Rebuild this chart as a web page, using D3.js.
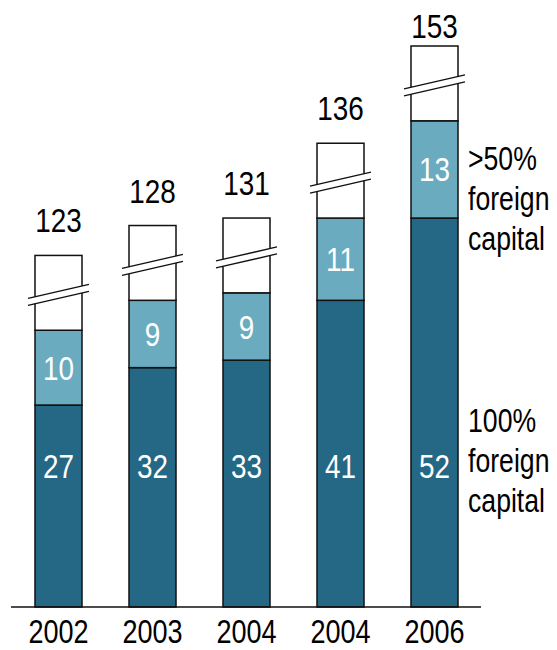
<!DOCTYPE html>
<html>
<head>
<meta charset="utf-8">
<script src="https://cdn.jsdelivr.net/npm/d3@7"></script>
<style>
  html, body { margin: 0; padding: 0; background: #fff; }
  svg { display: block; }
  text { font-family: "Liberation Sans Narrow", "Arial Narrow", "Liberation Sans", Arial, sans-serif; }
</style>
</head>
<body>
<svg id="chart" width="557" height="650"></svg>
<script>
// Companies by share of foreign capital, per year
const years = ["2002", "2003", "2004", "2004", "2006"];
const fullForeign = [27, 32, 33, 41, 52];      // 100% foreign capital
const majorityForeign = [10, 9, 9, 11, 13];    // >50% foreign capital
const totals = [123, 128, 131, 136, 153];      // all companies
const otherBreakUnits = 10;                     // compressed height of the broken remainder

const legendTop = [">50%", "foreign", "capital"];
const legendBottom = ["100%", "foreign", "capital"];

const colors = { full: "#256885", majority: "#6aabc0", other: "#ffffff" };

const svg = d3.select("#chart");
const baseY = 607;
const narrow = 0.82;   // horizontal squeeze for a condensed look

const rows = years.map((yr, i) => ({
  i, yr,
  full: fullForeign[i],
  majority: majorityForeign[i],
  total: totals[i]
}));

const x = d3.scaleBand()
  .domain(d3.range(years.length))
  .range([35, 458])
  .paddingInner(0.5)
  .paddingOuter(0);

const y = d3.scaleLinear()
  .domain([0, d3.max(rows, d => d.full + d.majority + otherBreakUnits)])
  .range([baseY, 46]);

const bw = x.bandwidth();

const g = svg.append("g");

// stacked segments
const segs = [];
rows.forEach(d => {
  segs.push({ i: d.i, y0: 0, y1: d.full, fill: colors.full });
  segs.push({ i: d.i, y0: d.full, y1: d.full + d.majority, fill: colors.majority });
  segs.push({ i: d.i, y0: d.full + d.majority, y1: d.full + d.majority + otherBreakUnits, fill: colors.other });
});

g.selectAll("rect.seg")
  .data(segs)
  .join("rect")
  .attr("class", "seg")
  .attr("x", d => x(d.i))
  .attr("width", bw)
  .attr("y", d => y(d.y1))
  .attr("height", d => y(d.y0) - y(d.y1))
  .attr("fill", d => d.fill)
  .attr("stroke", "#111")
  .attr("stroke-width", 1.5);

// break marks across the remainder segment
const ext = 7, slope = -14 / 61, gap = 7;
rows.forEach(d => {
  const top = y(d.full + d.majority + otherBreakUnits);
  const bot = y(d.full + d.majority);
  const cx = x(d.i) + bw / 2;
  const cy = (top + bot) / 2 + 2;
  const xl = x(d.i) - ext, xr = x(d.i) + bw + ext;
  const yAt = (xx, off) => cy + off + (xx - cx) * slope;
  const up = -gap / 2, dn = gap / 2;
  g.append("path")
    .attr("d", `M${xl},${yAt(xl, up)}L${xr},${yAt(xr, up)}L${xr},${yAt(xr, dn)}L${xl},${yAt(xl, dn)}Z`)
    .attr("fill", "#fff");
  [up, dn].forEach(off => {
    g.append("line")
      .attr("x1", xl).attr("y1", yAt(xl, off))
      .attr("x2", xr).attr("y2", yAt(xr, off))
      .attr("stroke", "#111").attr("stroke-width", 1.4);
  });
});

// baseline
svg.append("line")
  .attr("x1", 11).attr("x2", 481)
  .attr("y1", baseY).attr("y2", baseY)
  .attr("stroke", "#111").attr("stroke-width", 1.5);

const fs = 34;

// places condensed text at (px, py)
function labels(cls, data, px, py, text, opts) {
  return g.selectAll("text." + cls)
    .data(data)
    .join("text")
    .attr("class", cls)
    .attr("transform", (d, k) => `translate(${px(d, k)},${py(d, k)}) scale(${narrow},1)`)
    .attr("text-anchor", opts.anchor || "middle")
    .attr("font-size", opts.size || fs)
    .attr("fill", opts.fill || "#000")
    .text(text);
}

const cxOf = d => x(d.i) + bw / 2;

// totals above bars
labels("total", rows, cxOf,
  d => Math.max(y(d.full + d.majority + otherBreakUnits) - 23, 38),
  d => d.total, {});

// >50% values inside the light segments
labels("maj", rows, cxOf,
  d => (y(d.full) + y(d.full + d.majority)) / 2 + 12,
  d => d.majority, { fill: "#fff" });

// 100% values inside the dark segments
labels("full", rows, cxOf, () => 478, d => d.full, { fill: "#fff" });

// year labels
labels("year", rows, cxOf, () => 643, d => d.yr, { size: 33 });

// series labels on the right
labels("legTop", legendTop, () => 468, (d, k) => 170 + k * 40, d => d, { anchor: "start", size: 32.5 });
labels("legBot", legendBottom, () => 468, (d, k) => 432 + k * 40, d => d, { anchor: "start", size: 32.5 });
</script>
</body>
</html>
